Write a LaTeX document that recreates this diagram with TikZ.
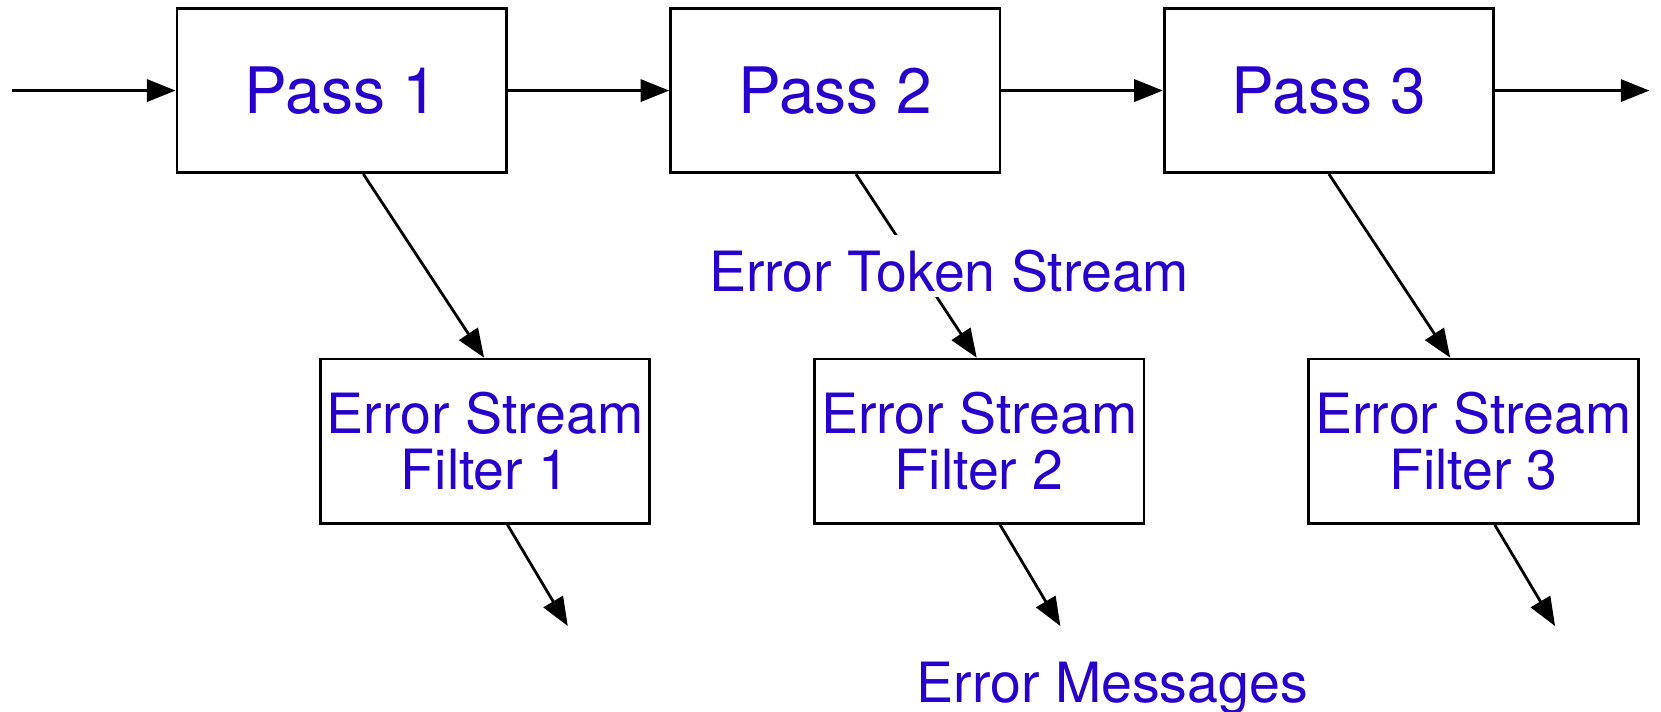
\documentclass[tikz,border=0pt]{standalone}
\usepackage{fontspec}
\setmainfont{TeX Gyre Heros}
\usetikzlibrary{arrows.meta}
\definecolor{labelblue}{RGB}{40,0,204}

\begin{document}
\begin{tikzpicture}[x=0.1mm, y=0.1mm,
	box/.style={draw, line width=0.75pt, minimum width=31.1mm, minimum height=15.5mm, inner sep=0pt, text=labelblue},
	pass/.style={box, font=\fontsize{17.2}{19}\selectfont},
	filter/.style={box, align=center, font=\fontsize{14.9}{15.2}\selectfont},
	lbl/.style={text=labelblue, font=\fontsize{14.9}{16}\selectfont},
	flow/.style={line width=0.75pt, -{Triangle[length=2.7mm, width=2.1mm]}}]
			\useasboundingbox (0,0) rectangle (1568,672);
			\clip (0,0) rectangle (1568,672);
			%Passes
			\node[pass] (pass1) at (322.5,586.5) {Pass 1};
			\node[pass] (pass2) at (788.5,586.5) {Pass 2};
			\node[pass] (pass3) at (1254.5,586.5) {Pass 3};
			%Filters
			\node[filter] (filter1) at (458,255.5) {Error Stream\\Filter 1};
			\node[filter] (filter2) at (924.5,255.5) {Error Stream\\Filter 2};
			\node[filter] (filter3) at (1391,255.5) {Error Stream\\Filter 3};
			%Main stream
			\coordinate (in) at (11,586.5);
			\coordinate (out) at (1557,586.5);
			\draw[flow] (in) -- (pass1);
			\draw[flow] (pass1) -- (pass2);
			\draw[flow] (pass2) -- (pass3);
			\draw[flow] (pass3) -- (out);
			%Error tokens
			\draw[flow] ([xshift=2.05mm]pass1.south) -- ([xshift=-0.1mm]filter1.north);
			\draw[flow] ([xshift=1.95mm]pass2.south) -- ([xshift=-0.25mm]filter2.north);
			\draw[flow] (pass3.south) -- ([xshift=-2.2mm]filter3.north);
			\node[lbl, fill=white, inner xsep=0pt, inner ysep=0.47mm, text height=4.86mm, anchor=base] (tokens) at (896,397) {Error Token Stream};
			%Error messages
			\coordinate (msg1) at (536,81);
			\coordinate (msg2) at (1001,81);
			\coordinate (msg3) at (1468,81);
			\draw[flow] ([xshift=2.1mm]filter1.south) -- (msg1);
			\draw[flow] ([xshift=1.95mm]filter2.south) -- (msg2);
			\draw[flow] ([xshift=2mm]filter3.south) -- (msg3);
			\node[lbl, anchor=base] (messages) at (1050,9) {Error Messages};
\end{tikzpicture}
\end{document}
